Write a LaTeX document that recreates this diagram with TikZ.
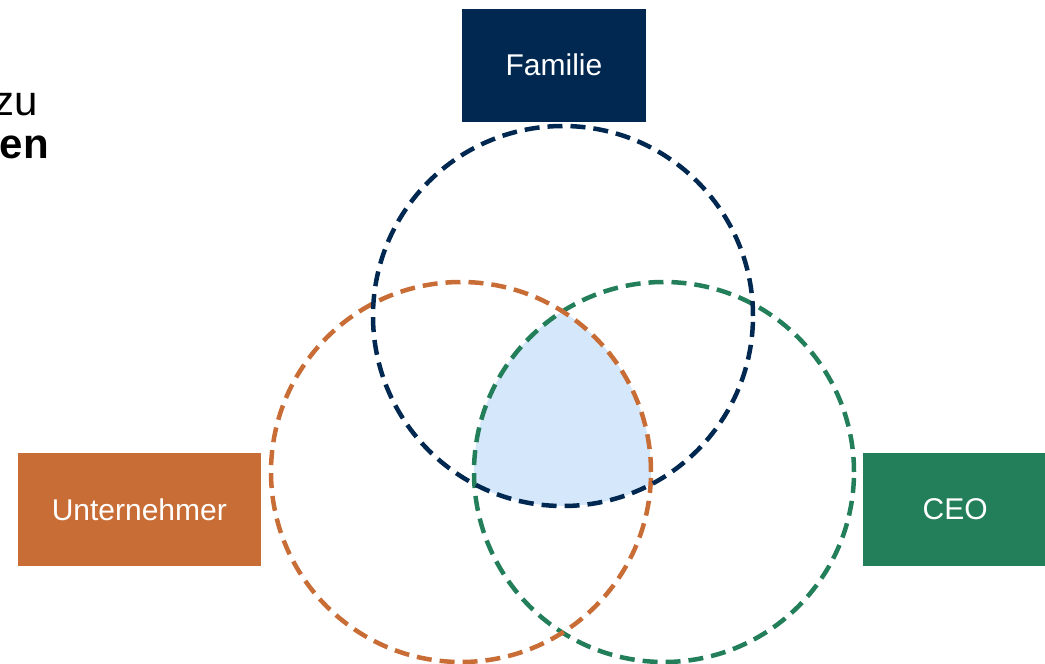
\documentclass[tikz,border=0pt]{standalone}
\usepackage{fontspec}
\setmainfont{Liberation Sans}
\usetikzlibrary{positioning}

\definecolor{famblue}{HTML}{002850}
\definecolor{unorange}{HTML}{C96D36}
\definecolor{ceogreen}{HTML}{237E5A}
\definecolor{coreblue}{HTML}{D4E7FB}

\begin{document}
\begin{tikzpicture}[x=1pt,y=-1pt,
  rolebox/.style={minimum width=184pt, minimum height=113pt, inner sep=0pt, text=white, font=\fontsize{30}{36}\selectfont},
  ring/.style={circle, draw, line width=4.5pt, dash pattern=on 15pt off 8pt, minimum size=380pt, inner sep=0pt},
  sidetext/.style={font=\fontsize{42}{50}\selectfont, anchor=base east, inner sep=0pt}
]
\useasboundingbox (0,0) rectangle (1045,664);

% centres of the three rings
\coordinate (fam-c) at (563,316);
\coordinate (unt-c) at (461,472);
\coordinate (ceo-c) at (664,472);

% common part
\begin{scope}
  \clip (fam-c) circle (190);
  \clip (unt-c) circle (190);
  \fill[coreblue] (ceo-c) circle (190);
\end{scope}

% rings
\node[ring, draw=ceogreen] (ring-ceo) at (ceo-c) {};
\node[ring, draw=unorange] (ring-unt) at (unt-c) {};
\node[ring, draw=famblue] (ring-fam) at (fam-c) {};

% labels
\node[rolebox, fill=famblue, above=2pt of ring-fam, xshift=-9pt] (box-fam) {Familie};
\node[rolebox, fill=unorange, minimum width=243pt, anchor=east] (box-unt) at (261,509.5) {Unternehmer};
\node[rolebox, fill=ceogreen, anchor=west] (box-ceo) at (863,509.5) {CEO};

% cut-off text on the left
\node[sidetext] (txt-zu) at (38,115) {zu};
\node[sidetext, font=\fontsize{42}{50}\selectfont\bfseries] (txt-hen) at (49,158) {hen};

\end{tikzpicture}
\end{document}
